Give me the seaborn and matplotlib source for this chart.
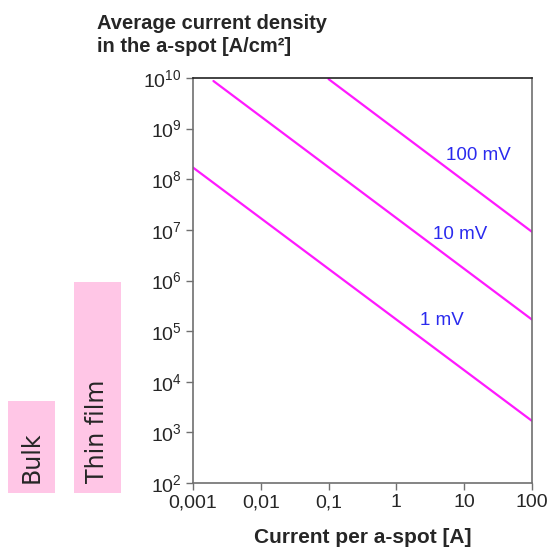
import pandas as pd
import seaborn as sns
import matplotlib.pyplot as plt
from matplotlib.patches import Rectangle

# line endpoints (log-log straight lines)
voltages = ['1 mV', '10 mV', '100 mV']
current_1mv = [0.001, 100]
density_1mv = [1.7e8, 1.7e3]
current_10mv = [0.002, 100]
density_10mv = [8.7e9, 1.7e5]
current_100mv = [0.1, 100]
density_100mv = [9.5e9, 9.2e6]

label_pos_x = [4.7, 8.7, 16]
label_pos_y = [1.6e5, 8.2e6, 3e8]

x_ticks = [0.001, 0.01, 0.1, 1, 10, 100]
x_tick_labels = ['0,001', '0,01', '0,1', '1', '10', '100']
y_ticks = [1e2, 1e3, 1e4, 1e5, 1e6, 1e7, 1e8, 1e9, 1e10]
y_tick_labels = [f'$10^{{{e}}}$' for e in range(2, 11)]

line_color = '#ff1aff'
text_color = '#2a2aee'
spine_color = '#707070'
box_color = '#ffc6e6'

df = pd.DataFrame({
    'Current': current_1mv + current_10mv + current_100mv,
    'Density': density_1mv + density_10mv + density_100mv,
    'Voltage': [voltages[0]] * 2 + [voltages[1]] * 2 + [voltages[2]] * 2,
})

sns.set_style('white')
plt.rcParams['font.family'] = ['Liberation Sans', 'DejaVu Sans']
plt.rcParams['mathtext.fontset'] = 'custom'
plt.rcParams['mathtext.rm'] = 'Liberation Sans'
plt.rcParams['mathtext.it'] = 'Liberation Sans'

fig = plt.figure(figsize=(5.5, 5.49), dpi=100)
ax = fig.add_axes([0.351, 0.120, 0.616, 0.738])

sns.lineplot(data=df, x='Current', y='Density', hue='Voltage',
             palette=[line_color] * 3, legend=False, linewidth=1.6, ax=ax)

ax.set_xscale('log')
ax.set_yscale('log')
ax.set_xlim(0.001, 100)
ax.set_ylim(1e2, 1e10)
ax.set_xticks(x_ticks)
ax.set_xticklabels(x_tick_labels)
ax.set_yticks(y_ticks)
ax.set_yticklabels(y_tick_labels)
ax.minorticks_off()
ax.tick_params(axis='both', which='major', direction='out', length=5,
               width=1, color=spine_color, labelsize=14, pad=3,
               bottom=True, left=True, top=False, right=False)

for side in ['right', 'bottom', 'left']:
    ax.spines[side].set_color(spine_color)
    ax.spines[side].set_linewidth(1.2)
ax.spines['top'].set_color('#222222')
ax.spines['top'].set_linewidth(1.2)

for lbl, lx, ly in zip(voltages, label_pos_x, label_pos_y):
    ax.text(lx, ly, lbl, color=text_color, fontsize=13.5,
            ha='center', va='center')

ax.set_xlabel('Current per a-spot [A]', fontsize=15, fontweight='bold',
              labelpad=12)
ax.set_ylabel('')
fig.text(97 / 550, 1 - 14 / 549, 'Average current density\nin the a-spot [A/cm²]',
         fontsize=14.5, fontweight='bold', ha='left', va='top',
         linespacing=1.25)

# pink boxes outside the axes (figure pixel coords)
boxes = [('Bulk', 8, 401, 47, 92), ('Thin film', 74, 282, 47, 211)]
for text, bx, by, bw, bh in boxes:
    fig.patches.append(Rectangle((bx / 550, 1 - (by + bh) / 549), bw / 550, bh / 549,
                                 transform=fig.transFigure, facecolor=box_color,
                                 edgecolor='none'))
    fig.text((bx + bw / 2) / 550, 1 - 483 / 549, text, rotation=90,
             fontsize=17, family='DejaVu Sans', ha='center', va='bottom')

plt.savefig('out.png', dpi=100)
